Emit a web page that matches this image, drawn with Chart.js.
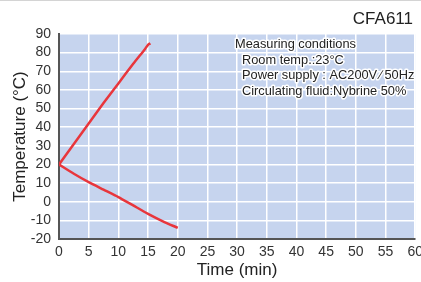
<!DOCTYPE html>
<html><head><meta charset="utf-8">
<script src="https://cdn.jsdelivr.net/npm/chart.js@4"></script>
<style>
html,body{margin:0;padding:0;background:#fff;overflow:hidden;width:421px;height:282px}
#wrap{width:428px;height:282px;position:relative}
#topline{position:absolute;left:0;top:0;width:421px;height:1px;background:#d4d4d4}
canvas{display:block}
</style></head><body>
<div id="wrap"><canvas id="c" width="428" height="282"></canvas><div id="topline"></div></div>
<script>
const heatTime = [0, 2.5, 5, 7.5, 10, 12.5, 14.5, 15, 15.4];
const heatTemp = [20, 31, 42, 53, 63.5, 74, 82, 84.2, 85];
const coolTime = [0, 2.5, 5, 7.5, 10, 12.5, 15, 17.5, 20];
const coolTemp = [20, 15, 10.5, 6.5, 2.5, -2, -6.5, -10.5, -14];
const xTicks = [0,5,10,15,20,25,30,35,40,45,50,55,60];
const yTicks = [-20,-10,0,10,20,30,40,50,60,70,80,90];
const chartTitle = "CFA611";
const notes = ["Measuring conditions", "Room temp.:23\u00B0C", "Power supply : AC200V\u2009\u2215\u200950Hz", "Circulating fluid:Nybrine 50%"];
const FONT = '"Liberation Sans", Arial, sans-serif';

const deco = {
  id:'deco',
  beforeDraw(ch){
    const a = ch.chartArea, c = ch.ctx;
    c.save(); c.fillStyle = '#c6d4ee'; c.fillRect(a.left, a.top, a.right-a.left, a.bottom-a.top); c.restore();
  },
  afterDatasetsDraw(ch){
    const a = ch.chartArea, c = ch.ctx;
    c.save();
    c.font = '12.8px ' + FONT;
    c.textBaseline = 'middle';
    c.lineJoin = 'round';
    const x0 = a.left + 176, y0 = a.top + 10.5, dy = 15.6;
    notes.forEach((t,i)=>{
      const x = i===0 ? x0 : x0 + 7;
      c.strokeStyle = '#fff'; c.lineWidth = 3; c.strokeText(t, x, y0 + i*dy);
      c.fillStyle = '#222'; c.fillText(t, x, y0 + i*dy);
    });
    c.font = '17px ' + FONT;
    c.textAlign = 'right';
    c.fillStyle = '#222';
    c.fillText(chartTitle, 413, 19);
    c.restore();
  }
};

new Chart(document.getElementById('c'), {
  type:'scatter',
  data:{ datasets:[
    {data: heatTime.map((x,i)=>({x, y:heatTemp[i]})), showLine:true, borderColor:'#e8363c', borderWidth:2.5, pointRadius:0, tension:0.2, fill:false},
    {data: coolTime.map((x,i)=>({x, y:coolTemp[i]})), showLine:true, borderColor:'#e8363c', borderWidth:2.5, pointRadius:0, tension:0.2, fill:false}
  ]},
  options:{
    responsive:false, animation:false,
    layout:{padding:{left:0, right:0, top:34, bottom:0}},
    plugins:{ legend:{display:false}, tooltip:{enabled:false}, title:{display:false} },
    scales:{
      x:{type:'linear', min:0, max:60,
        afterBuildTicks(s){ s.ticks = xTicks.map(v=>({value:v})); },
        afterFit(s){ s.height = 43; },
        grid:{color:'#ffffff', lineWidth:1.5, drawTicks:false},
        border:{display:true, color:'#555', width:2},
        ticks:{color:'#333', padding:5, font:{family:FONT, size:14}, maxRotation:0, autoSkip:false},
        title:{display:true, text:'Time (min)', color:'#222', padding:{top:0,bottom:1}, font:{family:FONT, size:17}}
      },
      y:{type:'linear', min:-20, max:90,
        afterBuildTicks(s){ s.ticks = yTicks.map(v=>({value:v})); },
        afterFit(s){ s.width = 59; },
        grid:{color:'#ffffff', lineWidth:1.5, drawTicks:false},
        border:{display:true, color:'#555', width:2},
        ticks:{color:'#333', padding:8, font:{family:FONT, size:14}, autoSkip:false},
        title:{display:true, text:'Temperature (\u00B0C)', color:'#222', padding:{top:10,bottom:0}, font:{family:FONT, size:17}}
      }
    }
  },
  plugins:[deco]
});
</script></body></html>
